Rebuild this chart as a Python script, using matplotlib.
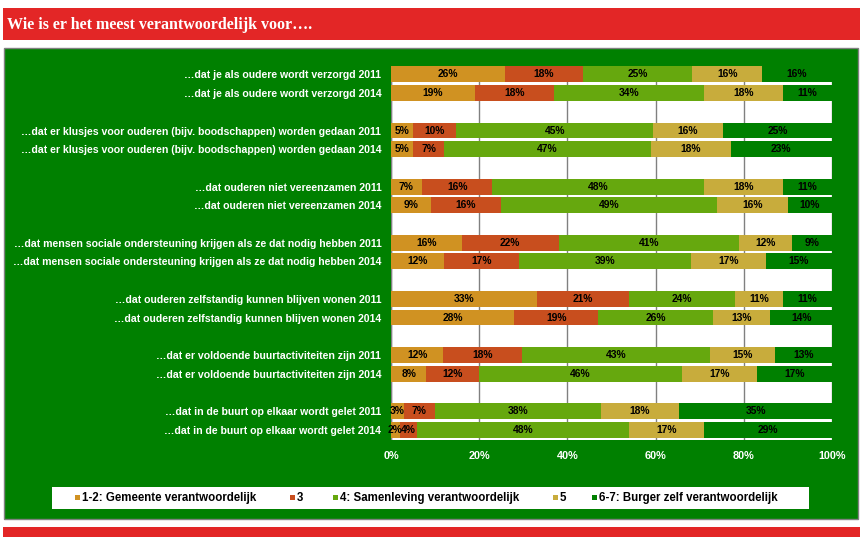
import matplotlib
matplotlib.use("Agg")
import matplotlib.pyplot as plt
from matplotlib.patches import Rectangle
import numpy as np

title = "Wie is er het meest verantwoordelijk voor…."
categories = [
    "…dat je als oudere wordt verzorgd 2011",
    "…dat je als oudere wordt verzorgd 2014",
    "…dat er klusjes voor ouderen (bijv. boodschappen) worden gedaan 2011",
    "…dat er klusjes voor ouderen (bijv. boodschappen) worden gedaan 2014",
    "…dat ouderen niet vereenzamen 2011",
    "…dat ouderen niet vereenzamen 2014",
    "…dat mensen sociale ondersteuning krijgen als ze dat nodig hebben 2011",
    "…dat mensen sociale ondersteuning krijgen als ze dat nodig hebben 2014",
    "…dat ouderen zelfstandig kunnen blijven wonen 2011",
    "…dat ouderen zelfstandig kunnen blijven wonen 2014",
    "…dat er voldoende buurtactiviteiten zijn 2011",
    "…dat er voldoende buurtactiviteiten zijn 2014",
    "…dat in de buurt op elkaar wordt gelet 2011",
    "…dat in de buurt op elkaar wordt gelet 2014",
]
series_names = ["1-2: Gemeente verantwoordelijk", "3", "4: Samenleving verantwoordelijk",
                "5", "6-7: Burger zelf verantwoordelijk"]
s_gemeente = [26, 19, 5, 5, 7, 9, 16, 12, 33, 28, 12, 8, 3, 2]
s_3 = [18, 18, 10, 7, 16, 16, 22, 17, 21, 19, 18, 12, 7, 4]
s_samenleving = [25, 34, 45, 47, 48, 49, 41, 39, 24, 26, 43, 46, 38, 48]
s_5 = [16, 18, 16, 18, 18, 16, 12, 17, 11, 13, 15, 17, 18, 17]
s_burger = [16, 11, 25, 23, 11, 10, 9, 15, 11, 14, 13, 17, 35, 29]
xticks = [0, 20, 40, 60, 80, 100]
xticklabels = ["0%", "20%", "40%", "60%", "80%", "100%"]

colors = ["#D09222", "#C84E1E", "#66A80E", "#C8AC3C", "#008000"]
W, H = 862, 542
fig = plt.figure(figsize=(W / 100, H / 100), dpi=100)
fig.patch.set_facecolor("white")

def px(x0, y0, w, h, **kw):
    fig.patches.append(Rectangle((x0 / W, 1 - (y0 + h) / H), w / W, h / H,
                                 transform=fig.transFigure, **kw))

# header
px(3, 8, 857, 32, facecolor="#E32626", edgecolor="none")
fig.text(7 / W, 1 - 25 / H, title, color="white", fontsize=11.5, fontweight="bold",
         family="Liberation Serif", va="center", ha="left")
# green panel
px(4, 48, 854, 471, facecolor="#008000", edgecolor="#808080", linewidth=1)
# bottom red band
px(3, 527, 857, 10, facecolor="#E32626", edgecolor="none")

ax = fig.add_axes([391 / W, 1 - 440 / H, (832 - 391) / W, (440 - 66) / H])
ax.set_zorder(5)
ax.set_facecolor("white")

data = np.array([s_gemeente, s_3, s_samenleving, s_5, s_burger], dtype=float)
norm = data / data.sum(axis=0) * 100

# positions: groups of 2 bars with an empty slot between groups
ypos = []
for i in range(len(categories)):
    g, k = divmod(i, 2)
    ypos.append(g * 3 + k)
ypos = np.array(ypos, dtype=float)

left = np.zeros(len(categories))
for si in range(5):
    ax.barh(ypos, norm[si], left=left, height=0.85, color=colors[si],
            edgecolor="none", zorder=2, label=series_names[si])
    for yi, (l, w, v) in enumerate(zip(left, norm[si], data[si])):
        ax.text(l + w / 2, ypos[yi], f"{int(v)}%", ha="center", va="center",
                fontsize=7.4, fontweight="bold", family="Liberation Sans",
                color="black", zorder=3)
    left += norm[si]

ax.set_ylim(ypos.max() + 0.55, -0.45)
ax.set_xlim(0, 100)
ax.set_xticks(xticks)
ax.set_xticklabels(xticklabels, color="white", fontsize=7.8, fontweight="bold",
                   family="Liberation Sans")
ax.set_yticks(ypos)
ax.set_yticklabels(categories, color="white", fontsize=7.6, fontweight="bold",
                   family="Liberation Sans")
ax.tick_params(axis="y", length=0, pad=7)
ax.tick_params(axis="x", length=0, pad=8)
ax.xaxis.grid(True, color="#808080", linewidth=1, zorder=0)
ax.set_axisbelow(True)
for s in ax.spines.values():
    s.set_visible(False)
ax.axvline(0, color="#808080", linewidth=1, zorder=1)

# legend
px(52, 487, 757, 22, facecolor="white", edgecolor="none")
leg_x = [75, 290, 333, 553, 592]
for xi, name, c in zip(leg_x, series_names, colors):
    px(xi, 495, 5, 5, facecolor=c, edgecolor="none")
    fig.text((xi + 7) / W, 1 - 498 / H, name, fontsize=8.3, fontweight="bold",
             family="Liberation Sans", va="center", ha="left", color="black")

fig.savefig("out.png", dpi=100, facecolor="white")
